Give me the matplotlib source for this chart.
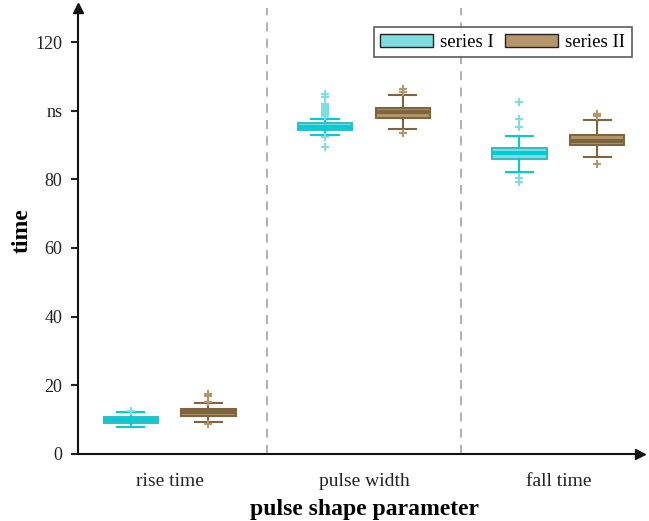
import numpy as np
import matplotlib.pyplot as plt
from matplotlib.patches import Patch

plt.rcParams['font.family'] = ['Liberation Serif', 'DejaVu Serif']

categories = ["rise time", "pulse width", "fall time"]
series_names = ["series I", "series II"]

# box stats: whislo, q1, med, q3, whishi
series1_stats = [
    [7.7, 9.0, 9.8, 10.6, 12.1],
    [92.8, 94.4, 95.3, 96.3, 97.6],
    [82.1, 85.8, 87.8, 89.0, 92.6],
]
series2_stats = [
    [9.3, 11.1, 12.1, 13.0, 14.7],
    [94.6, 98.0, 99.5, 100.9, 104.6],
    [86.4, 89.9, 91.2, 92.9, 97.2],
]
series1_fliers = [
    [12.6],
    [104.8, 103.9, 102.0, 101.5, 101.0, 100.5, 100.0, 99.5, 99.0, 98.5, 92.3, 89.4],
    [102.4, 97.7, 95.4, 80.5, 79.2],
]
series2_fliers = [
    [17.5, 16.8, 15.1, 8.8],
    [106.3, 105.6, 93.6],
    [99.0, 98.5, 84.4],
]

y_ticks = [0, 20, 40, 60, 80, 100, 120]
y_ticklabels = ["0", "20", "40", "60", "80", "ns", "120"]

face1, edge1, line1, flier1 = "#7fdde0", "#3fb8bf", "#00cdd8", "#80dde0"
face2, edge2, line2, flier2 = "#b5956a", "#7d6540", "#7d6540", "#b5956a"


def make_stats(stats, fliers):
    out = []
    for s, f in zip(stats, fliers):
        out.append(dict(whislo=s[0], q1=s[1], med=s[2], q3=s[3], whishi=s[4], fliers=f))
    return out


fig = plt.figure(figsize=(6.49, 5.21), dpi=100)
ax = fig.add_axes([0.12, 0.129, 0.866, 0.856])

pos = np.arange(1, len(categories) + 1)
off = 0.2
w = 0.28

for stats, fl, p, fc, ec, lc, flc in [
    (series1_stats, series1_fliers, pos - off, face1, edge1, line1, flier1),
    (series2_stats, series2_fliers, pos + off, face2, edge2, line2, flier2),
]:
    ax.bxp(make_stats(stats, fl), positions=p, widths=w, patch_artist=True,
           boxprops=dict(facecolor=fc, edgecolor=ec, linewidth=1.5),
           medianprops=dict(color=lc, linewidth=3),
           whiskerprops=dict(color=lc, linewidth=1.5),
           capprops=dict(color=lc, linewidth=1.5),
           capwidths=w * 0.5,
           flierprops=dict(marker="+", markeredgecolor=flc, markersize=6,
                           markeredgewidth=1.5))

for xv in [1.5, 2.5]:
    ax.axvline(xv, color="#aaaaaa", linestyle=(0, (5, 4)), linewidth=1.3, zorder=0)

ax.set_xlim(0.528, 3.42)
ax.set_ylim(0, 130)
ax.set_xticks(pos)
ax.set_xticklabels(categories)
ax.set_yticks(y_ticks)
ax.set_yticklabels(y_ticklabels)
ax.tick_params(axis="x", length=0, labelsize=14, pad=14, colors="#222222")
ax.tick_params(axis="y", length=5, width=1.5, labelsize=13, pad=6, colors="#222222")

for side in ["top", "right"]:
    ax.spines[side].set_visible(False)
for side in ["left", "bottom"]:
    ax.spines[side].set_linewidth(1.5)
    ax.spines[side].set_color("#111111")

ax.plot(1, 0, ">", color="#111111", markersize=7, transform=ax.transAxes, clip_on=False)
ax.plot(0, 1, "^", color="#111111", markersize=7, transform=ax.transAxes, clip_on=False)

ax.set_xlabel("pulse shape parameter", fontsize=17, fontweight="bold", labelpad=6)
ax.xaxis.label.set_x(0.51)
ax.set_ylabel("time", fontsize=17, fontweight="bold", labelpad=2)

handles = [Patch(facecolor=face1, edgecolor="#222222", label=series_names[0]),
           Patch(facecolor=face2, edgecolor="#222222", label=series_names[1])]
leg = ax.legend(handles=handles, loc="upper right", ncol=2, fontsize=13.5,
                frameon=True, fancybox=False, edgecolor="#333333",
                handlelength=2.8, handletextpad=0.4, columnspacing=0.6,
                borderpad=0.35, borderaxespad=0, bbox_to_anchor=(0.986, 0.957))
leg.get_frame().set_linewidth(1.2)

fig.savefig("out.png", dpi=100)
